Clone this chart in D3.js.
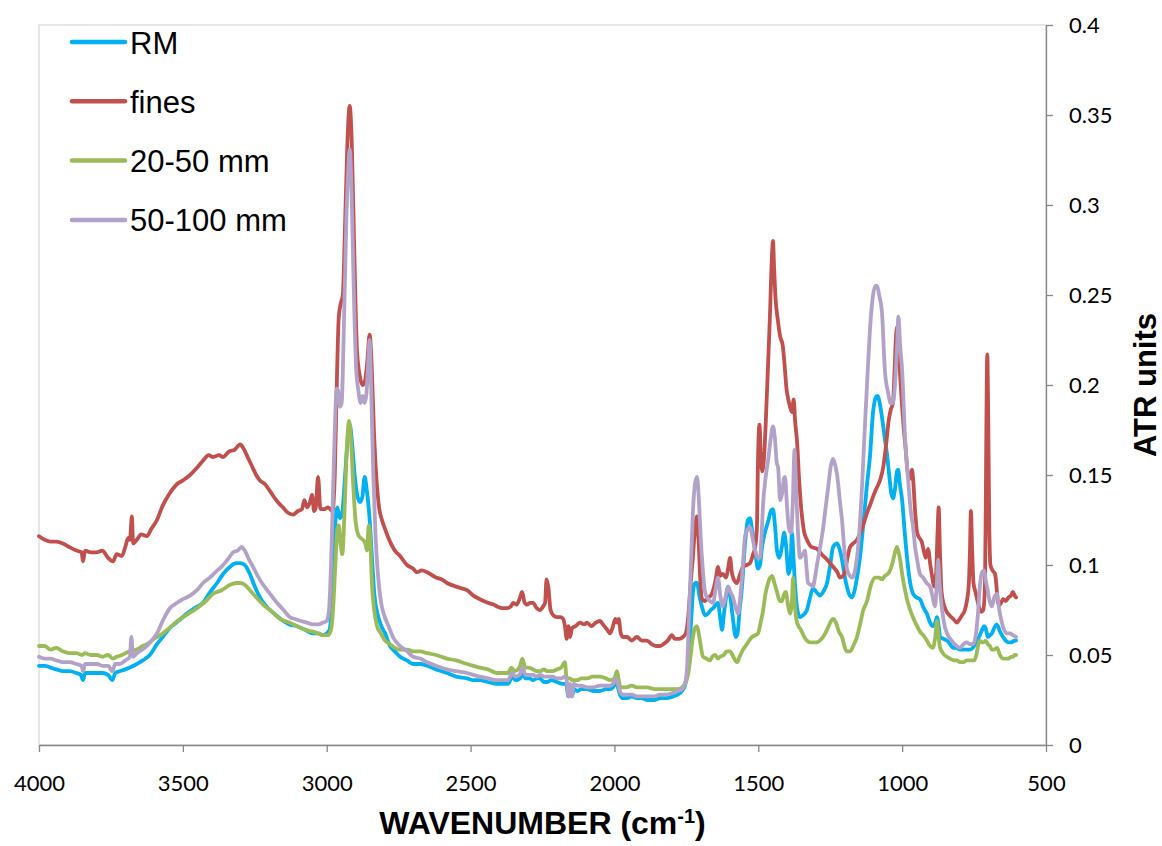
<!DOCTYPE html>
<html lang="en">
<head>
<meta charset="utf-8">
<title>ATR spectra</title>
<script src="https://cdn.jsdelivr.net/npm/d3@7"></script>
<style>
    body { margin: 0; background: #fff; }
    .tick text { font-family: Lato, "Open Sans", sans-serif; font-size: 22px; fill: #000; }
    .axis path, .axis line { stroke: #868686; stroke-width: 1.3; }
</style>
</head>
<body>
<div id="chart"></div>
<script>
// legend / series setup
var seriesNames = ["RM", "fines", "20-50 mm", "50-100 mm"];
var seriesColors = ["#00b0f0", "#c0504d", "#9bbb59", "#b3a2c7"];

var xTicks = [4000, 3500, 3000, 2500, 2000, 1500, 1000, 500];
var yTicks = [0, 0.05, 0.1, 0.15, 0.2, 0.25, 0.3, 0.35, 0.4];
var yTickLabels = ["0", "0.05", "0.1", "0.15", "0.2", "0.25", "0.3", "0.35", "0.4"];

// [wavenumber, ATR units]
var rm = [[4000,0.044],[3980,0.044],[3960,0.043],[3940,0.042],[3917,0.041],[3895,0.041],[3870,0.04],[3855,0.039],[3847,0.036],[3840,0.04],[3820,0.04],[3798,0.04],[3780,0.04],[3760,0.039],[3745,0.036],[3735,0.04],[3720,0.041],[3700,0.042],[3684,0.043],[3660,0.045],[3639,0.047],[3615,0.05],[3590,0.056],[3570,0.06],[3545,0.065],[3515,0.069],[3486,0.073],[3460,0.076],[3430,0.079],[3405,0.085],[3381,0.09],[3360,0.095],[3336,0.099],[3315,0.101],[3301,0.101],[3285,0.1],[3267,0.095],[3250,0.088],[3232,0.082],[3215,0.078],[3197,0.075],[3175,0.072],[3152,0.069],[3130,0.067],[3103,0.066],[3075,0.064],[3048,0.062],[3030,0.062],[3013,0.061],[3000,0.062],[2990,0.064],[2982,0.08],[2975,0.105],[2968,0.128],[2963,0.132],[2955,0.126],[2947,0.128],[2936,0.15],[2927,0.17],[2920,0.178],[2912,0.168],[2903,0.15],[2893,0.138],[2884,0.135],[2876,0.138],[2868,0.149],[2861,0.142],[2852,0.128],[2843,0.105],[2834,0.083],[2822,0.072],[2810,0.066],[2797,0.062],[2780,0.055],[2763,0.052],[2745,0.049],[2721,0.047],[2700,0.045],[2675,0.045],[2651,0.044],[2620,0.042],[2582,0.04],[2550,0.038],[2512,0.037],[2490,0.036],[2467,0.036],[2440,0.035],[2408,0.034],[2385,0.034],[2370,0.034],[2355,0.038],[2345,0.036],[2328,0.037],[2318,0.04],[2310,0.037],[2295,0.037],[2283,0.036],[2270,0.037],[2259,0.037],[2245,0.035],[2234,0.035],[2220,0.036],[2200,0.035],[2180,0.034],[2168,0.034],[2160,0.027],[2154,0.03],[2148,0.027],[2140,0.031],[2130,0.03],[2115,0.031],[2095,0.031],[2075,0.03],[2050,0.03],[2030,0.031],[2015,0.031],[2005,0.032],[1995,0.035],[1988,0.032],[1981,0.028],[1972,0.026],[1956,0.026],[1940,0.027],[1922,0.026],[1905,0.026],[1887,0.025],[1860,0.025],[1842,0.026],[1820,0.026],[1796,0.027],[1780,0.028],[1765,0.03],[1755,0.033],[1748,0.038],[1740,0.052],[1733,0.07],[1727,0.085],[1720,0.09],[1713,0.09],[1705,0.083],[1696,0.077],[1685,0.072],[1675,0.073],[1665,0.075],[1657,0.076],[1648,0.078],[1640,0.079],[1632,0.07],[1626,0.064],[1620,0.072],[1612,0.082],[1605,0.088],[1597,0.082],[1588,0.07],[1578,0.06],[1572,0.062],[1565,0.075],[1557,0.087],[1547,0.11],[1536,0.125],[1529,0.126],[1522,0.12],[1511,0.108],[1501,0.098],[1494,0.1],[1487,0.11],[1477,0.118],[1466,0.124],[1456,0.13],[1449,0.131],[1442,0.122],[1435,0.108],[1428,0.104],[1418,0.11],[1410,0.118],[1403,0.11],[1395,0.095],[1388,0.1],[1383,0.118],[1378,0.105],[1372,0.088],[1365,0.076],[1355,0.071],[1345,0.072],[1331,0.075],[1320,0.082],[1310,0.087],[1298,0.085],[1286,0.083],[1275,0.085],[1261,0.09],[1250,0.1],[1240,0.11],[1226,0.112],[1216,0.108],[1209,0.103],[1200,0.094],[1192,0.088],[1182,0.083],[1174,0.082],[1165,0.086],[1157,0.093],[1146,0.105],[1136,0.121],[1122,0.145],[1112,0.16],[1101,0.185],[1092,0.193],[1086,0.194],[1078,0.19],[1070,0.182],[1060,0.17],[1053,0.162],[1045,0.15],[1038,0.14],[1032,0.137],[1025,0.142],[1018,0.152],[1014,0.153],[1008,0.145],[1000,0.136],[992,0.12],[983,0.104],[972,0.09],[962,0.084],[950,0.082],[938,0.081],[925,0.076],[914,0.073],[903,0.068],[893,0.066],[885,0.068],[879,0.071],[873,0.066],[868,0.06],[857,0.059],[844,0.058],[833,0.056],[823,0.054],[810,0.054],[799,0.053],[789,0.053],[775,0.053],[765,0.053],[754,0.054],[740,0.058],[730,0.061],[722,0.064],[715,0.066],[710,0.065],[702,0.06],[695,0.061],[688,0.062],[680,0.065],[672,0.067],[667,0.066],[660,0.063],[649,0.06],[640,0.058],[630,0.057],[620,0.057],[610,0.058],[604,0.058]];

var fines = [[4000,0.116],[3980,0.114],[3960,0.113],[3940,0.113],[3917,0.112],[3895,0.11],[3870,0.108],[3852,0.107],[3847,0.102],[3840,0.108],[3820,0.107],[3800,0.107],[3780,0.108],[3760,0.104],[3743,0.102],[3730,0.106],[3712,0.105],[3700,0.11],[3690,0.115],[3684,0.114],[3677,0.127],[3673,0.112],[3660,0.114],[3645,0.117],[3625,0.116],[3610,0.12],[3590,0.125],[3570,0.133],[3545,0.14],[3520,0.145],[3500,0.147],[3475,0.15],[3451,0.154],[3430,0.158],[3410,0.161],[3395,0.16],[3375,0.161],[3360,0.16],[3340,0.163],[3320,0.164],[3301,0.167],[3290,0.165],[3275,0.16],[3260,0.155],[3245,0.15],[3232,0.147],[3215,0.145],[3197,0.141],[3180,0.137],[3165,0.134],[3152,0.132],[3135,0.129],[3117,0.128],[3100,0.13],[3086,0.131],[3078,0.136],[3068,0.132],[3058,0.135],[3051,0.139],[3044,0.13],[3038,0.132],[3030,0.149],[3022,0.131],[3010,0.131],[2995,0.132],[2980,0.13],[2972,0.15],[2965,0.2],[2958,0.238],[2950,0.246],[2944,0.25],[2936,0.29],[2928,0.335],[2920,0.355],[2913,0.335],[2905,0.28],[2895,0.22],[2885,0.205],[2875,0.2],[2866,0.203],[2858,0.215],[2851,0.228],[2844,0.212],[2836,0.175],[2828,0.15],[2818,0.132],[2808,0.125],[2795,0.119],[2780,0.113],[2763,0.108],[2745,0.105],[2721,0.1],[2700,0.098],[2686,0.096],[2670,0.097],[2651,0.096],[2620,0.093],[2600,0.092],[2582,0.09],[2550,0.088],[2530,0.087],[2512,0.086],[2490,0.083],[2467,0.081],[2440,0.079],[2420,0.078],[2408,0.077],[2390,0.076],[2373,0.076],[2360,0.077],[2352,0.079],[2340,0.078],[2328,0.082],[2321,0.085],[2312,0.079],[2304,0.078],[2293,0.079],[2283,0.079],[2270,0.076],[2259,0.075],[2248,0.077],[2241,0.079],[2236,0.092],[2230,0.088],[2222,0.075],[2212,0.072],[2200,0.071],[2189,0.071],[2178,0.07],[2172,0.066],[2166,0.059],[2160,0.066],[2154,0.06],[2147,0.065],[2135,0.066],[2120,0.068],[2105,0.067],[2095,0.068],[2080,0.066],[2065,0.068],[2050,0.069],[2040,0.067],[2025,0.064],[2015,0.062],[2005,0.066],[1997,0.07],[1991,0.068],[1985,0.07],[1978,0.062],[1970,0.06],[1956,0.06],[1940,0.058],[1922,0.06],[1905,0.058],[1887,0.058],[1870,0.056],[1855,0.055],[1842,0.055],[1830,0.056],[1815,0.058],[1800,0.061],[1790,0.059],[1775,0.059],[1762,0.06],[1752,0.062],[1743,0.072],[1735,0.09],[1727,0.105],[1720,0.12],[1713,0.127],[1707,0.112],[1701,0.09],[1695,0.081],[1685,0.08],[1675,0.082],[1665,0.083],[1657,0.086],[1648,0.092],[1640,0.099],[1632,0.094],[1623,0.095],[1612,0.093],[1605,0.098],[1598,0.104],[1592,0.096],[1585,0.092],[1574,0.09],[1563,0.095],[1553,0.099],[1540,0.1],[1529,0.101],[1518,0.106],[1511,0.11],[1505,0.12],[1501,0.158],[1496,0.178],[1491,0.16],[1486,0.152],[1480,0.16],[1470,0.195],[1460,0.236],[1453,0.27],[1449,0.28],[1445,0.265],[1440,0.248],[1432,0.236],[1424,0.227],[1415,0.222],[1408,0.21],[1402,0.198],[1397,0.193],[1390,0.188],[1383,0.185],[1377,0.192],[1372,0.18],[1365,0.168],[1358,0.147],[1350,0.13],[1340,0.118],[1331,0.114],[1315,0.11],[1296,0.109],[1280,0.106],[1261,0.103],[1240,0.099],[1225,0.096],[1216,0.093],[1205,0.094],[1199,0.096],[1190,0.104],[1181,0.11],[1170,0.112],[1157,0.114],[1140,0.12],[1122,0.129],[1110,0.134],[1101,0.138],[1088,0.143],[1077,0.147],[1066,0.154],[1055,0.168],[1047,0.18],[1040,0.186],[1032,0.19],[1027,0.205],[1022,0.225],[1018,0.232],[1012,0.22],[1007,0.205],[1000,0.188],[994,0.175],[988,0.165],[983,0.155],[976,0.148],[970,0.148],[966,0.153],[962,0.148],[955,0.13],[948,0.118],[940,0.115],[932,0.113],[925,0.108],[918,0.104],[910,0.109],[902,0.1],[895,0.093],[889,0.088],[882,0.095],[877,0.118],[873,0.132],[869,0.11],[863,0.085],[855,0.078],[845,0.074],[835,0.072],[822,0.07],[810,0.068],[800,0.07],[792,0.072],[782,0.075],[775,0.08],[768,0.09],[764,0.11],[761,0.13],[757,0.11],[752,0.09],[745,0.085],[735,0.078],[725,0.074],[718,0.075],[712,0.09],[709,0.14],[706,0.2],[704,0.217],[701,0.185],[697,0.12],[693,0.1],[686,0.097],[677,0.095],[672,0.088],[667,0.079],[660,0.078],[649,0.081],[640,0.08],[630,0.082],[622,0.083],[615,0.085],[609,0.083],[604,0.082]];

var mm20_50 = [[4000,0.055],[3980,0.055],[3960,0.053],[3940,0.054],[3917,0.052],[3895,0.051],[3870,0.051],[3850,0.05],[3840,0.051],[3820,0.05],[3798,0.05],[3780,0.049],[3760,0.05],[3743,0.048],[3730,0.049],[3712,0.05],[3700,0.051],[3684,0.052],[3660,0.053],[3640,0.055],[3625,0.056],[3600,0.059],[3569,0.062],[3540,0.066],[3510,0.07],[3480,0.073],[3451,0.076],[3420,0.08],[3395,0.084],[3365,0.086],[3336,0.089],[3315,0.09],[3301,0.09],[3285,0.089],[3267,0.086],[3245,0.082],[3221,0.078],[3190,0.074],[3162,0.07],[3130,0.068],[3103,0.066],[3075,0.064],[3048,0.063],[3030,0.062],[3013,0.061],[2995,0.061],[2985,0.064],[2978,0.075],[2970,0.1],[2963,0.12],[2958,0.122],[2952,0.112],[2946,0.106],[2938,0.13],[2930,0.165],[2922,0.18],[2915,0.168],[2908,0.145],[2900,0.125],[2891,0.117],[2882,0.115],[2874,0.114],[2866,0.112],[2860,0.108],[2854,0.122],[2849,0.115],[2843,0.09],[2835,0.075],[2825,0.066],[2812,0.062],[2797,0.058],[2780,0.056],[2763,0.054],[2745,0.053],[2720,0.053],[2700,0.052],[2675,0.052],[2651,0.051],[2620,0.05],[2582,0.048],[2550,0.047],[2512,0.045],[2490,0.044],[2467,0.043],[2440,0.042],[2408,0.04],[2385,0.04],[2370,0.04],[2358,0.043],[2348,0.041],[2330,0.043],[2320,0.048],[2310,0.043],[2300,0.043],[2283,0.042],[2270,0.041],[2259,0.041],[2245,0.042],[2234,0.041],[2215,0.041],[2200,0.042],[2185,0.043],[2172,0.046],[2166,0.037],[2155,0.037],[2147,0.036],[2130,0.036],[2115,0.037],[2095,0.037],[2075,0.038],[2050,0.038],[2030,0.037],[2015,0.036],[2000,0.037],[1991,0.041],[1985,0.036],[1978,0.032],[1960,0.032],[1940,0.033],[1922,0.032],[1900,0.032],[1887,0.032],[1860,0.031],[1840,0.031],[1820,0.031],[1796,0.031],[1780,0.031],[1765,0.032],[1752,0.035],[1743,0.04],[1735,0.05],[1727,0.06],[1720,0.065],[1713,0.066],[1707,0.062],[1700,0.055],[1692,0.049],[1680,0.048],[1668,0.047],[1660,0.049],[1650,0.05],[1640,0.048],[1633,0.049],[1620,0.05],[1610,0.052],[1598,0.052],[1590,0.05],[1580,0.047],[1574,0.046],[1565,0.049],[1553,0.053],[1540,0.056],[1522,0.06],[1510,0.061],[1501,0.062],[1492,0.068],[1484,0.074],[1475,0.084],[1466,0.09],[1459,0.093],[1452,0.094],[1444,0.09],[1435,0.085],[1425,0.08],[1418,0.08],[1410,0.084],[1404,0.085],[1397,0.078],[1390,0.073],[1383,0.08],[1379,0.093],[1374,0.08],[1368,0.07],[1360,0.066],[1352,0.064],[1340,0.06],[1331,0.058],[1320,0.057],[1310,0.057],[1298,0.057],[1286,0.058],[1275,0.06],[1261,0.064],[1250,0.068],[1240,0.07],[1230,0.068],[1220,0.063],[1209,0.06],[1199,0.054],[1192,0.052],[1181,0.052],[1170,0.055],[1157,0.06],[1145,0.068],[1135,0.075],[1122,0.08],[1110,0.088],[1094,0.093],[1080,0.093],[1070,0.092],[1060,0.094],[1050,0.095],[1042,0.097],[1032,0.102],[1025,0.107],[1018,0.11],[1012,0.107],[1007,0.103],[1000,0.095],[990,0.086],[980,0.079],[972,0.075],[960,0.07],[948,0.066],[938,0.063],[927,0.061],[914,0.058],[903,0.055],[893,0.054],[885,0.06],[879,0.069],[873,0.06],[868,0.054],[858,0.051],[845,0.049],[834,0.048],[820,0.047],[810,0.047],[799,0.046],[787,0.046],[775,0.047],[762,0.047],[750,0.047],[742,0.05],[735,0.056],[730,0.058],[722,0.057],[716,0.057],[710,0.058],[702,0.056],[695,0.055],[688,0.053],[680,0.053],[670,0.054],[660,0.05],[649,0.048],[640,0.048],[630,0.048],[622,0.049],[615,0.049],[609,0.05],[604,0.05]];

var mm50_100 = [[4000,0.049],[3980,0.048],[3960,0.048],[3940,0.047],[3917,0.046],[3895,0.046],[3870,0.045],[3852,0.044],[3847,0.041],[3840,0.045],[3820,0.045],[3798,0.045],[3780,0.044],[3760,0.044],[3745,0.041],[3735,0.045],[3720,0.045],[3700,0.047],[3684,0.049],[3679,0.06],[3673,0.049],[3660,0.051],[3640,0.053],[3625,0.055],[3608,0.058],[3590,0.062],[3570,0.069],[3545,0.076],[3520,0.079],[3500,0.081],[3475,0.083],[3451,0.086],[3430,0.09],[3406,0.093],[3380,0.097],[3360,0.1],[3340,0.104],[3326,0.107],[3310,0.108],[3295,0.11],[3285,0.108],[3270,0.103],[3256,0.099],[3240,0.094],[3221,0.089],[3197,0.084],[3173,0.079],[3150,0.075],[3128,0.071],[3110,0.07],[3093,0.069],[3070,0.068],[3048,0.067],[3030,0.067],[3013,0.068],[3000,0.069],[2992,0.075],[2985,0.1],[2978,0.14],[2970,0.185],[2965,0.198],[2960,0.197],[2954,0.188],[2948,0.19],[2940,0.235],[2932,0.29],[2925,0.32],[2920,0.331],[2914,0.31],[2907,0.26],[2898,0.21],[2890,0.197],[2882,0.19],[2875,0.194],[2868,0.19],[2862,0.195],[2855,0.215],[2851,0.225],[2845,0.195],[2838,0.15],[2830,0.115],[2822,0.095],[2812,0.08],[2800,0.072],[2785,0.066],[2770,0.06],[2745,0.055],[2720,0.052],[2700,0.049],[2675,0.048],[2651,0.046],[2620,0.044],[2582,0.042],[2550,0.041],[2512,0.04],[2490,0.039],[2467,0.038],[2440,0.037],[2408,0.036],[2385,0.036],[2370,0.036],[2356,0.04],[2345,0.038],[2330,0.039],[2319,0.043],[2310,0.039],[2295,0.039],[2283,0.039],[2270,0.038],[2259,0.039],[2245,0.038],[2234,0.038],[2215,0.038],[2200,0.037],[2185,0.037],[2172,0.038],[2166,0.036],[2160,0.027],[2154,0.034],[2148,0.027],[2141,0.034],[2130,0.033],[2115,0.033],[2095,0.032],[2075,0.032],[2050,0.033],[2030,0.033],[2015,0.033],[2005,0.034],[1995,0.037],[1988,0.034],[1981,0.03],[1972,0.028],[1956,0.028],[1940,0.028],[1922,0.027],[1905,0.027],[1887,0.027],[1860,0.027],[1842,0.028],[1820,0.028],[1796,0.029],[1780,0.03],[1765,0.031],[1755,0.034],[1748,0.042],[1740,0.075],[1733,0.105],[1727,0.13],[1720,0.145],[1713,0.149],[1706,0.135],[1700,0.115],[1694,0.1],[1685,0.085],[1678,0.082],[1668,0.08],[1657,0.079],[1648,0.087],[1640,0.093],[1632,0.083],[1623,0.077],[1613,0.083],[1605,0.088],[1597,0.085],[1588,0.082],[1578,0.076],[1570,0.073],[1563,0.082],[1557,0.092],[1550,0.108],[1546,0.116],[1536,0.12],[1529,0.121],[1520,0.115],[1511,0.108],[1502,0.104],[1494,0.104],[1489,0.115],[1484,0.132],[1475,0.148],[1466,0.158],[1457,0.17],[1449,0.177],[1442,0.17],[1436,0.157],[1431,0.154],[1424,0.136],[1417,0.14],[1411,0.148],[1407,0.149],[1400,0.132],[1393,0.12],[1386,0.118],[1380,0.135],[1374,0.164],[1368,0.14],[1362,0.118],[1355,0.104],[1345,0.106],[1338,0.108],[1332,0.098],[1327,0.09],[1318,0.089],[1310,0.088],[1302,0.094],[1296,0.1],[1285,0.11],[1275,0.12],[1265,0.133],[1258,0.142],[1248,0.155],[1240,0.159],[1232,0.155],[1226,0.15],[1216,0.135],[1209,0.125],[1200,0.107],[1192,0.098],[1182,0.094],[1174,0.093],[1165,0.096],[1157,0.104],[1146,0.125],[1139,0.145],[1130,0.175],[1119,0.21],[1110,0.235],[1101,0.25],[1093,0.255],[1087,0.255],[1080,0.25],[1070,0.24],[1060,0.208],[1049,0.196],[1040,0.19],[1032,0.19],[1025,0.2],[1018,0.22],[1013,0.238],[1007,0.222],[1000,0.208],[990,0.171],[979,0.147],[970,0.13],[962,0.121],[955,0.11],[948,0.103],[938,0.095],[927,0.093],[915,0.09],[903,0.088],[895,0.083],[886,0.077],[880,0.088],[875,0.103],[870,0.09],[861,0.075],[852,0.066],[844,0.062],[833,0.059],[823,0.057],[810,0.055],[799,0.054],[787,0.056],[775,0.057],[765,0.056],[754,0.056],[745,0.06],[737,0.072],[730,0.088],[722,0.096],[715,0.097],[710,0.092],[705,0.088],[696,0.08],[688,0.077],[680,0.082],[670,0.084],[665,0.078],[660,0.073],[650,0.066],[636,0.062],[625,0.062],[615,0.061],[604,0.06]];

var allSeries = [rm, fines, mm20_50, mm50_100];

// canvas size
var W = 1162, H = 846;
var plot = { left: 39, right: 1046, top: 25, bottom: 745 };

var svg = d3.select("#chart").append("svg")
    .attr("width", W)
    .attr("height", H);

var x = d3.scaleLinear().domain([4000, 500]).range([plot.left, plot.right]);
var y = d3.scaleLinear().domain([0, 0.4]).range([plot.bottom, plot.top]);

// plot area border (light grey, visible top & left)
svg.append("rect")
    .attr("x", plot.left)
    .attr("y", plot.top)
    .attr("width", plot.right - plot.left)
    .attr("height", plot.bottom - plot.top)
    .attr("fill", "none")
    .attr("stroke", "#d9d9d9")
    .attr("stroke-width", 1.3);

// x-axis
svg.append("g")
    .attr("class", "axis")
    .attr("transform", "translate(0," + plot.bottom + ")")
    .call(d3.axisBottom(x).tickValues(xTicks).tickFormat(d3.format("d"))
        .tickSizeInner(7).tickSizeOuter(0).tickPadding(23));

// y-axis on the right
svg.append("g")
    .attr("class", "axis")
    .attr("transform", "translate(" + plot.right + ",0)")
    .call(d3.axisRight(y).tickValues(yTicks)
        .tickFormat(function(d, i) { return yTickLabels[i]; })
        .tickSizeInner(7).tickSizeOuter(0).tickPadding(16));

// lines
var line = d3.line()
    .x(function(d) { return x(d[0]); })
    .y(function(d) { return y(d[1]); })
    .curve(d3.curveMonotoneX);

svg.append("g")
    .selectAll("path")
    .data(allSeries)
    .enter().append("path")
    .attr("d", line)
    .attr("fill", "none")
    .attr("stroke", function(d, i) { return seriesColors[i]; })
    .attr("stroke-width", 3.8)
    .attr("stroke-linejoin", "round")
    .attr("stroke-linecap", "round");

// legend
var legend = svg.append("g");
seriesNames.forEach(function(name, i) {
    var ly = 42 + i * 59.3;
    legend.append("line")
        .attr("x1", 72).attr("x2", 125)
        .attr("y1", ly).attr("y2", ly)
        .attr("stroke", seriesColors[i])
        .attr("stroke-width", 4.5)
        .attr("stroke-linecap", "round");
    legend.append("text")
        .attr("x", 130)
        .attr("y", ly + 11.5)
        .style("font-family", "'Liberation Sans', Arial, sans-serif")
        .style("font-size", "31px")
        .text(name);
});

// axis titles
var xTitle = svg.append("text")
    .attr("x", (plot.left + plot.right) / 2)
    .attr("y", 834)
    .attr("text-anchor", "middle")
    .style("font-family", "'Liberation Sans', Arial, sans-serif")
    .style("font-size", "32px")
    .style("font-weight", "bold");
xTitle.append("tspan").text("WAVENUMBER (cm");
xTitle.append("tspan").attr("dy", -11).style("font-size", "20px").text("-1");
xTitle.append("tspan").attr("dy", 11).text(")");

svg.append("text")
    .attr("transform", "translate(1156," + ((plot.top + plot.bottom) / 2) + ") rotate(-90)")
    .attr("text-anchor", "middle")
    .style("font-family", "'Liberation Sans', Arial, sans-serif")
    .style("font-size", "31px")
    .style("font-weight", "bold")
    .text("ATR units");
</script>
</body>
</html>
